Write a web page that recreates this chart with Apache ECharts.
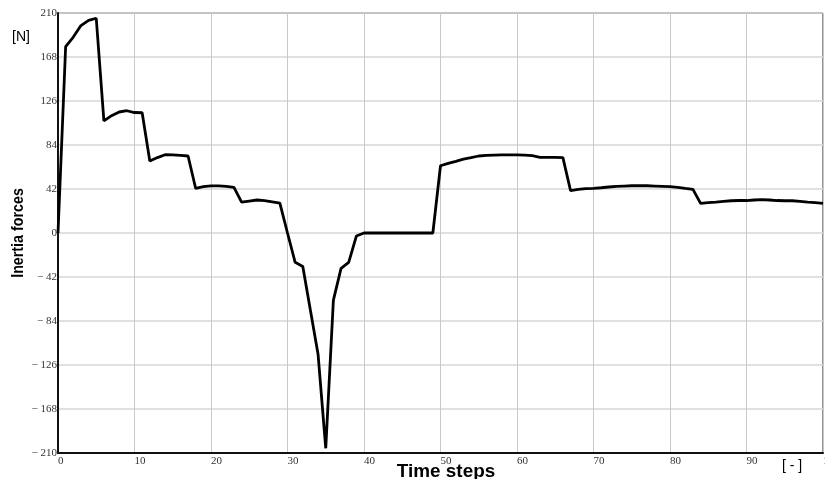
<!DOCTYPE html>
<html>
<head>
<meta charset="utf-8">
<script src="https://cdn.jsdelivr.net/npm/echarts@6/dist/echarts.min.js"></script>
<style>
  html, body { margin: 0; padding: 0; background: #fff; }
  #chart { width: 825px; height: 479px; }
</style>
</head>
<body>
<div id="chart"></div>
<script>
// time steps 0..100
const steps = Array.from({ length: 101 }, (_, i) => i);

// inertia force per step [N]
const forces = [
  0, 178, 187, 198, 203, 205, 107, 112, 115.5, 116.7,
  115, 114.8, 68.7, 72, 74.7, 74.5, 74, 73.5, 42.5, 44.2,
  45, 45, 44.6, 43.6, 29.5, 30.5, 31.5, 31, 29.8, 28.5,
  0, -28, -32, -74, -116, -205.5, -64, -33.7, -28, -2.9,
  0, 0, 0, 0, 0, 0, 0, 0, 0, 0,
  64.2, 66.5, 68.4, 70.6, 71.9, 73.5, 74.1, 74.4, 74.5, 74.5,
  74.5, 74.3, 73.8, 72.2, 72.2, 72.2, 71.9, 40.4, 41.7, 42.3,
  42.6, 43.2, 43.9, 44.5, 44.8, 45.1, 45.1, 45.1, 44.8, 44.5,
  44.2, 43.6, 42.6, 41.7, 28.3, 28.9, 29.5, 30.2, 30.8, 31,
  31, 31.5, 31.8, 31.5, 31, 30.8, 30.8, 30.2, 29.5, 28.9,
  28.3
];

const yMin = -210, yMax = 210, yStep = 42;
const xMin = 0, xMax = 100, xStep = 10;

const chart = echarts.init(document.getElementById("chart"));

const serif = "'Liberation Serif', 'DejaVu Serif', serif";
const sans = "'Liberation Sans', Arial, sans-serif";

const option = {
  animation: false,
  backgroundColor: "#fff",
  grid: {
    left: 58, right: 2, top: 13, bottom: 26,
    containLabel: false,
    outerBoundsMode: "none",
    show: true, borderColor: "#222", borderWidth: 1
  },
  xAxis: {
    type: "value",
    min: xMin,
    max: xMax,
    interval: xStep,
    axisLine: { show: true, onZero: false, lineStyle: { color: "#111", width: 2 } },
    axisTick: { show: false },
    axisLabel: {
      color: "#333",
      fontFamily: serif,
      fontSize: 11,
      align: "left",
      margin: 3,
      hideOverlap: false,
      showMaxLabel: true,
      formatter: (v) => String(v)
    },
    splitLine: { show: true, lineStyle: { color: "#c8c8c8", width: 1 } }
  },
  yAxis: {
    type: "value",
    min: yMin,
    max: yMax,
    interval: yStep,
    axisLine: { show: true, onZero: false, lineStyle: { color: "#111", width: 2 } },
    axisTick: { show: false },
    axisLabel: {
      color: "#333",
      fontFamily: serif,
      fontSize: 11,
      margin: 1,
      formatter: (v) => (v < 0 ? "\u2212 " + Math.abs(v) : String(v))
    },
    splitLine: { show: true, lineStyle: { color: "#d6d6d6", width: 1.5 } }
  },
  graphic: [
    {
      type: "text",
      x: 18, y: 233,
      rotation: Math.PI / 2,
      scaleX: 0.84,
      style: {
        text: "Inertia forces",
        fontFamily: sans,
        fontWeight: "bold",
        fontSize: 17,
        fill: "#000",
        align: "center",
        verticalAlign: "middle"
      }
    },
    {
      type: "text",
      x: 12, y: 30,
      style: { text: "[N]", fontFamily: sans, fontSize: 14, fill: "#000" }
    },
    {
      type: "text",
      x: 446, y: 472,
      scaleX: 1.05,
      style: {
        text: "Time steps",
        fontFamily: sans,
        fontWeight: "bold",
        fontSize: 18,
        fill: "#000",
        align: "center",
        verticalAlign: "middle"
      }
    },
    {
      type: "text",
      x: 792, y: 466,
      style: {
        text: "[ - ]",
        fontFamily: sans,
        fontSize: 14,
        fill: "#000",
        align: "center",
        verticalAlign: "middle"
      }
    }
  ],
  series: [
    {
      type: "line",
      data: steps.map((s, i) => [s, forces[i]]),
      showSymbol: false,
      lineStyle: { color: "#000", width: 2.8 },
      z: 5
    }
  ]
};

chart.setOption(option);
</script>
</body>
</html>
